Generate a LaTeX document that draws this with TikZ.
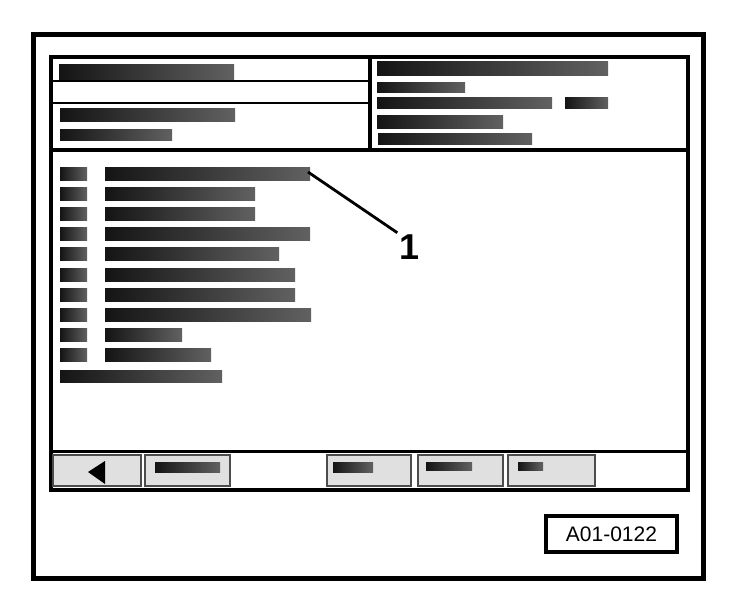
\documentclass[tikz,border=0pt]{standalone}
\usepackage{fontspec}
\setmainfont{Liberation Sans}
\usetikzlibrary{positioning}

\tikzset{
	bar/.style={left color=black!92,right color=black!62},
	btn/.style={fill=black!12,draw=black!70,line width=1.8pt},
	tagbox/.style={draw,line width=3.5pt,minimum width=131pt,minimum height=36pt,inner sep=0pt,font=\fontsize{21}{21}\selectfont},
}

\begin{document}
\begin{tikzpicture}[x=1pt,y=-1pt]
	\useasboundingbox (0,0) rectangle (752,602);

	%frames
	\draw[line width=5pt] (33,35) rectangle (703,578); %outer frame
	\draw[line width=3.5pt] (51,57) rectangle (688,490); %screen
	\draw[line width=4pt] (51,150) -- (688,150); %header bottom
	\draw[line width=4pt] (370,57) -- (370,150); %header divider
	\draw[line width=2.5pt] (51,81) -- (370,81); %header line 1
	\draw[line width=2.5pt] (51,103) -- (370,103); %header line 2
	\draw[line width=3pt] (51,451) -- (688,451); %button bar line

	%header bars left
	\shade[bar] (59,65) rectangle (234,79);
	\shade[bar] (60,108) rectangle (235,121);
	\shade[bar] (60,129) rectangle (172,140);

	%header bars right
	\shade[bar] (377,62) rectangle (608,75);
	\shade[bar] (377,82) rectangle (465,92);
	\shade[bar] (377,97) rectangle (552,108);
	\shade[bar] (565,97) rectangle (608,108);
	\shade[bar] (377,115) rectangle (503,128);
	\shade[bar] (378,133) rectangle (532,144);

	%list rows
	\foreach \i/\e in {0/310,1/255,2/255,3/310,4/279,5/295,6/295,7/311,8/182,9/211}{
		\shade[bar] (60,{167+20.2*\i}) rectangle (87,{180+20.2*\i});
		\shade[bar] (105,{167+20.2*\i}) rectangle (\e,{180+20.2*\i});
	}
	\shade[bar] (60,370) rectangle (222,382); %last row

	%leader and label
	\coordinate (tip) at (308,172);
	\node[inner sep=0pt,font=\fontsize{36}{36}\selectfont\bfseries] (one) at (410,247) {1};
	\draw[line width=2.8pt,shorten >=3pt] (tip) -- (one.north west);

	%buttons
	\draw[btn] (53,455) rectangle (141,486); %back
	\fill (88,472) -- (105,461) -- (105,484) -- cycle; %back arrow
	\draw[btn] (145,455) rectangle (230,486);
	\shade[bar] (155,462) rectangle (220,472);
	\draw[btn] (327,455) rectangle (411,486);
	\shade[bar] (333,462) rectangle (373,472);
	\draw[btn] (418,455) rectangle (503,486);
	\shade[bar] (426,462) rectangle (472,470);
	\draw[btn] (508,455) rectangle (595,486);
	\shade[bar] (518,462) rectangle (543,470);

	%figure tag
	\node[tagbox] (tag) at (611.5,534) {A01-0122};
\end{tikzpicture}
\end{document}
